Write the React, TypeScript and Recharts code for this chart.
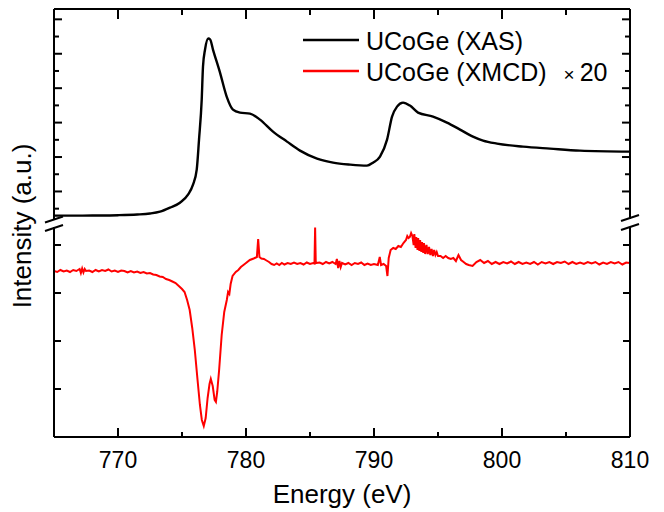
import { LineChart, Line, XAxis, YAxis, Legend } from "recharts";

const FONT = "'Liberation Sans', Arial, Helvetica, sans-serif";

// XAS (upper panel), a.u.
const xasEnergy = [
  765.0, 766.0, 768.0, 770.0, 771.5, 772.5, 773.28, 774.06, 774.84, 775.47,
  775.86, 776.15, 776.33, 776.54, 776.64, 776.8, 777.05, 777.2, 777.42, 777.97,
  778.49, 778.98, 779.53, 780.31, 781.09, 782.11, 783.2, 784.22, 785.55, 786.8,
  788.13, 789.45, 789.92, 790.47, 791.02, 791.41, 791.8, 792.27, 792.81, 793.44,
  794.61, 795.7, 796.72, 797.73, 798.52, 799.61, 801.64, 803.75, 806.09, 810.0,
];
const xasIntensity = [
  0.297, 0.297, 0.302, 0.311, 0.331, 0.36, 0.413, 0.529, 0.674, 0.907,
  1.198, 1.634, 2.506, 3.669, 4.628, 5.122, 5.442, 5.413, 5.122, 4.453,
  3.756, 3.378, 3.291, 3.262, 3.087, 2.738, 2.448, 2.186, 1.953, 1.837,
  1.779, 1.75, 1.837, 2.012, 2.506, 3.174, 3.465, 3.581, 3.494, 3.291,
  3.174, 3.0, 2.797, 2.593, 2.477, 2.39, 2.302, 2.244, 2.186, 2.157,
];

// XMCD x20 (lower panel), a.u.
const xmcdEnergy = [
  765.0, 765.25, 765.5, 765.75, 766.0, 766.25, 766.5, 766.75, 767.0, 767.1,
  767.2, 767.3, 767.4, 767.5, 767.75, 768.0, 768.25, 768.5, 768.75, 769.0,
  769.25, 769.5, 769.75, 770.0, 770.25, 770.5, 770.75, 771.0, 771.25, 771.5,
  771.75, 772.0, 772.25, 772.5, 772.75, 773.0, 773.25, 773.5, 773.75, 774.0,
  774.25, 774.5, 774.75, 775.0, 775.2, 775.4, 775.6, 775.8, 776.0, 776.2,
  776.4, 776.55, 776.7, 776.85, 777.0, 777.15, 777.25, 777.4, 777.55, 777.65,
  777.75, 777.9, 778.1, 778.3, 778.5, 778.6, 778.7, 778.8, 778.95, 779.2,
  779.4, 779.6, 779.8, 780.0, 780.3, 780.6, 780.85, 780.95, 781.05, 781.2,
  781.4, 781.6, 781.8, 782.0, 782.2, 782.4, 782.6, 782.8, 783.0, 783.25,
  783.5, 783.75, 784.0, 784.25, 784.5, 784.75, 785.0, 785.25, 785.35, 785.4,
  785.45, 785.75, 786.0, 786.25, 786.5, 786.75, 787.0, 787.1, 787.2, 787.3,
  787.4, 787.5, 787.75, 788.0, 788.25, 788.5, 788.75, 789.0, 789.25, 789.5,
  789.75, 790.0, 790.3, 790.45, 790.55, 790.75, 790.95, 791.05, 791.15, 791.3,
  791.5, 791.7, 791.9, 792.1, 792.3, 792.5, 792.6, 792.7, 792.8, 792.9,
  793.0, 793.1, 793.15, 793.25, 793.3, 793.4, 793.45, 793.55, 793.6, 793.7,
  793.75, 793.85, 793.9, 794.0, 794.1, 794.2, 794.3, 794.4, 794.5, 794.6,
  794.7, 794.8, 794.9, 795.0, 795.2, 795.4, 795.6, 795.8, 796.0, 796.2,
  796.4, 796.6, 796.8, 797.0, 797.2, 797.4, 797.7, 798.0, 798.3, 798.6,
  798.9, 799.2, 799.5, 799.8, 800.1, 800.4, 800.7, 801.0, 801.3, 801.6,
  801.9, 802.2, 802.5, 802.8, 803.1, 803.4, 803.7, 804.0, 804.3, 804.6,
  804.9, 805.2, 805.5, 805.8, 806.1, 806.4, 806.7, 807.0, 807.3, 807.6,
  807.9, 808.2, 808.5, 808.8, 809.1, 809.4, 809.7, 810.0,
];
const xmcdIntensity = [
  -26, -27, -25, -26.5, -25.5, -27, -25, -26, -24, -28,
  -23.5, -27.5, -24, -26, -25.5, -27, -25, -26.5, -25, -26,
  -24.5, -26.5, -25.5, -27, -25.5, -26, -27.5, -26, -27.5, -26.5,
  -28, -27, -28.5, -28, -29.5, -30, -31.5, -32, -34, -35,
  -36.5, -38, -41, -44, -47, -55, -65, -83, -105, -133,
  -160, -175, -181, -173, -153, -139, -134, -141, -155, -157,
  -147, -125, -90, -67, -55, -47, -49, -39, -31, -27,
  -25, -22, -20, -18, -15, -13.5, -12, 6, -12, -13.5,
  -14, -15.5, -17, -19, -20, -18.5, -20, -18, -19.5, -18,
  -19, -17.5, -19, -18, -19.5, -17.5, -19, -18, -18.5, 17.5,
  -18, -17.5, -19, -17, -18.5, -17, -19, -14, -23, -16,
  -22, -18, -19.5, -18, -20, -18, -19, -17.5, -20, -18.5,
  -20, -19, -20, -12, -20, -19, -21, -31, -13, -5,
  -3, -4, -1, -2, 2, 5, 9, 7, 8, 12,
  9, 0, 11, -3, 8, -5, 7, -6, 5, -7,
  3, -8, 2, -9, 0, -9, -2, -10, -4, -11,
  -5, -10, -7, -11, -11, -13, -11, -13, -14, -13,
  -16, -10, -15, -17, -19, -20, -21, -17, -15, -18,
  -16, -19, -17, -19, -17, -18.5, -16.5, -19, -17, -19,
  -17.5, -19, -17, -19.5, -17, -18.5, -17, -19, -17, -18,
  -16.5, -19, -17, -19, -17.5, -19, -17, -18.5, -17, -19.5,
  -17.5, -19, -17, -18.5, -17, -19.5, -17.5, -18,
];

const energyTicks = [770, 775, 780, 785, 790, 795, 800, 805, 810];
const xasTicks = [0.5, 1, 1.5, 2, 2.5, 3, 3.5, 4, 4.5, 5, 5.5, 6];
const xmcdTicks = [-192, -144, -96, -48, 0];

const seriesNames = ["UCoGe (XAS)", "UCoGe (XMCD)"];
const seriesColors = ["#000000", "#ff0000"];

const xasData = xasEnergy.map((e, i) => ({ e, v: xasIntensity[i] }));
const xmcdData = xmcdEnergy.map((e, i) => ({ e, v: xmcdIntensity[i] }));

const BottomTick = (props: any) => {
  const { x, y, payload } = props;
  const major = payload.value % 10 === 0;
  return (
    <g>
      <line x1={x} x2={x} y1={y} y2={y - (major ? 9 : 5)} stroke="#000" strokeWidth={2} />
      {major && (
        <text x={x} y={y + 31} textAnchor="middle" fontSize={23} fontFamily={FONT} fill="#000">
          {payload.value}
        </text>
      )}
    </g>
  );
};

const TopTick = (props: any) => {
  const { x, y, payload } = props;
  const major = payload.value % 10 === 0;
  return <line x1={x} x2={x} y1={y} y2={y + (major ? 10 : 6)} stroke="#000" strokeWidth={2} />;
};

// side = 1 for left axis (ticks point right), -1 for right axis
const SideTick = (props: any) => {
  const { x, y, payload, side, upper } = props;
  let len = 7;
  if (upper) len = Number.isInteger(payload.value) ? 8 : 5;
  return <line x1={x} x2={x + side * len} y1={y} y2={y} stroke="#000" strokeWidth={2} />;
};

const renderLegend = () => (
  <svg width={330} height={70}>
    <line x1={7} x2={63} y1={18} y2={18} stroke={seriesColors[0]} strokeWidth={2.5} />
    <text x={70} y={27.5} fontSize={25} fontFamily={FONT} fill="#000">
      {seriesNames[0]}
    </text>
    <line x1={7} x2={63} y1={49} y2={49} stroke={seriesColors[1]} strokeWidth={2.5} />
    <text x={70} y={58.5} fontSize={25} fontFamily={FONT} fill="#000">
      {seriesNames[1]}
      <tspan dx={17} fontSize={19}>×</tspan>
      <tspan dx={5}>20</tspan>
    </text>
  </svg>
);

const axisLine = { stroke: "#000", strokeWidth: 2 };

export default function App() {
  return (
    <div style={{ position: "absolute", left: 0, top: 0, width: 664, height: 512, background: "#fff" }}>
      <div style={{ position: "absolute", left: 0, top: 0 }}>
        <LineChart width={664} height={512} data={xmcdData} margin={{ top: 227, right: 0, bottom: 0, left: 0 }}>
          <XAxis
            dataKey="e"
            type="number"
            domain={[765, 810]}
            ticks={energyTicks}
            interval={0}
            allowDataOverflow
            height={75}
            tickSize={0}
            tickMargin={0}
            tickLine={false}
            axisLine={axisLine}
            tick={(p: any) => <BottomTick {...p} />}
            label={{ value: "Energy (eV)", position: "insideBottom", offset: 9, fontSize: 26, fill: "#000", fontFamily: FONT }}
          />
          <YAxis
            yAxisId="l"
            type="number"
            domain={[-192, 18]}
            ticks={xmcdTicks}
            interval={0}
            allowDataOverflow
            width={54}
            tickSize={0}
            tickMargin={0}
            tickLine={false}
            axisLine={axisLine}
            tick={(p: any) => <SideTick {...p} side={1} />}
          />
          <YAxis
            yAxisId="r"
            orientation="right"
            type="number"
            domain={[-192, 18]}
            ticks={xmcdTicks}
            interval={0}
            allowDataOverflow
            width={34}
            tickSize={0}
            tickMargin={0}
            tickLine={false}
            axisLine={axisLine}
            tick={(p: any) => <SideTick {...p} side={-1} />}
          />
          <Line
            yAxisId="l"
            type="linear"
            dataKey="v"
            name={seriesNames[1]}
            stroke={seriesColors[1]}
            strokeWidth={2}
            dot={false}
            isAnimationActive={false}
          />
        </LineChart>
      </div>
      <div style={{ position: "absolute", left: 0, top: 0 }}>
        <LineChart width={664} height={222} data={xasData} margin={{ top: 0, right: 0, bottom: 3, left: 0 }}>
          <XAxis
            dataKey="e"
            type="number"
            orientation="top"
            domain={[765, 810]}
            ticks={energyTicks}
            interval={0}
            allowDataOverflow
            height={9}
            tickSize={0}
            tickMargin={0}
            tickLine={false}
            axisLine={axisLine}
            tick={(p: any) => <TopTick {...p} />}
          />
          <YAxis
            yAxisId="l"
            type="number"
            domain={[0.2, 6.3]}
            ticks={xasTicks}
            interval={0}
            allowDataOverflow
            width={54}
            tickSize={0}
            tickMargin={0}
            tickLine={false}
            axisLine={axisLine}
            tick={(p: any) => <SideTick {...p} side={1} upper />}
          />
          <YAxis
            yAxisId="r"
            orientation="right"
            type="number"
            domain={[0.2, 6.3]}
            ticks={xasTicks}
            interval={0}
            allowDataOverflow
            width={34}
            tickSize={0}
            tickMargin={0}
            tickLine={false}
            axisLine={axisLine}
            tick={(p: any) => <SideTick {...p} side={-1} upper />}
          />
          <Legend
            layout="vertical"
            align="center"
            verticalAlign="middle"
            content={renderLegend}
            wrapperStyle={{ position: "absolute", left: 296, top: 22, width: 330, height: 70 }}
          />
          <Line
            yAxisId="l"
            type="monotone"
            dataKey="v"
            name={seriesNames[0]}
            stroke={seriesColors[0]}
            strokeWidth={2.4}
            dot={false}
            isAnimationActive={false}
          />
        </LineChart>
      </div>
      <svg width={664} height={512} style={{ position: "absolute", left: 0, top: 0, pointerEvents: "none" }}>
        {/* axis break marks */}
        <g stroke="#000" strokeWidth={2}>
          <line x1={45} y1={222.5} x2={63} y2={216.5} />
          <line x1={45} y1={231} x2={63} y2={225} />
          <line x1={621} y1={221} x2={639} y2={215} />
          <line x1={621} y1={230} x2={639} y2={224} />
        </g>
        <text
          transform="translate(22,226) rotate(-90)"
          textAnchor="middle"
          dominantBaseline="central"
          fontSize={26}
          fontFamily={FONT}
          fill="#000"
        >
          Intensity (a.u.)
        </text>
      </svg>
    </div>
  );
}
